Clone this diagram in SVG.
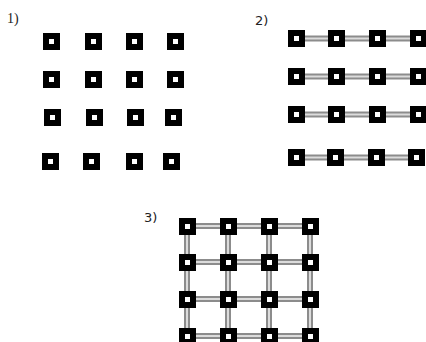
<svg xmlns="http://www.w3.org/2000/svg" width="426" height="342" viewBox="0 0 426 342">
<defs>
<style>
.o{fill:#000}
.i{fill:#fff}
.bo{stroke:#8c8c8c;stroke-width:6;fill:none}
.bi{stroke:#dcdcdc;stroke-width:2;fill:none}
.lbl1{font-family:"Liberation Serif",serif;font-size:14px;fill:#222}
.lbl{font-family:"DejaVu Sans","Liberation Sans",sans-serif;font-size:13px;fill:#222}
</style>
<g id="sq"><rect class="o" x="0" y="0" width="17" height="17"/><rect class="i" x="6" y="6" width="5" height="5"/></g>
</defs>
<rect width="426" height="342" fill="#fff"/>
<text class="lbl1" x="7" y="23">1)</text>
<text class="lbl" x="255" y="25">2)</text>
<text class="lbl" x="144" y="222">3)</text>

<g id="connectors">
<g id="c2">
<path class="bo" d="M296 38.5H419M296 76.5H419M296 114.5H419M296 157.5H419"/>
<path class="bi" d="M296 38.5H419M296 76.5H419M296 114.5H419M296 157.5H419"/>
</g>
<g id="c3">
<path class="bo" d="M187 226H310M187 262H310M187 299H310M187 336H310M187 226V342M228 226V342M269 226V342M310 226V342"/>
<path class="bi" d="M187 226H310M187 262H310M187 299H310M187 336H310M187 226V342M228 226V342M269 226V342M310 226V342"/>
</g>
</g>

<g id="panel1">
<g id="n1_11"><use href="#sq" x="43" y="33"/></g>
<g id="n1_12"><use href="#sq" x="85" y="33"/></g>
<g id="n1_13"><use href="#sq" x="126" y="33"/></g>
<g id="n1_14"><use href="#sq" x="167" y="33"/></g>
<g id="n1_21"><use href="#sq" x="43" y="71"/></g>
<g id="n1_22"><use href="#sq" x="85" y="71"/></g>
<g id="n1_23"><use href="#sq" x="126" y="71"/></g>
<g id="n1_24"><use href="#sq" x="167" y="71"/></g>
<g id="n1_31"><use href="#sq" x="44" y="109"/></g>
<g id="n1_32"><use href="#sq" x="86" y="109"/></g>
<g id="n1_33"><use href="#sq" x="127" y="109"/></g>
<g id="n1_34"><use href="#sq" x="165" y="109"/></g>
<g id="n1_41"><use href="#sq" x="42" y="153"/></g>
<g id="n1_42"><use href="#sq" x="83" y="153"/></g>
<g id="n1_43"><use href="#sq" x="126" y="153"/></g>
<g id="n1_44"><use href="#sq" x="163" y="153"/></g>
</g>

<g id="panel2">
<g id="n2_11"><use href="#sq" x="288" y="30"/></g>
<g id="n2_12"><use href="#sq" x="328" y="30"/></g>
<g id="n2_13"><use href="#sq" x="369" y="30"/></g>
<g id="n2_14"><use href="#sq" x="410" y="30"/></g>
<g id="n2_21"><use href="#sq" x="288" y="68"/></g>
<g id="n2_22"><use href="#sq" x="328" y="68"/></g>
<g id="n2_23"><use href="#sq" x="369" y="68"/></g>
<g id="n2_24"><use href="#sq" x="410" y="68"/></g>
<g id="n2_31"><use href="#sq" x="288" y="106"/></g>
<g id="n2_32"><use href="#sq" x="328" y="106"/></g>
<g id="n2_33"><use href="#sq" x="369" y="106"/></g>
<g id="n2_34"><use href="#sq" x="410" y="106"/></g>
<g id="n2_41"><use href="#sq" x="288" y="149"/></g>
<g id="n2_42"><use href="#sq" x="327" y="149"/></g>
<g id="n2_43"><use href="#sq" x="368" y="149"/></g>
<g id="n2_44"><use href="#sq" x="408" y="149"/></g>
</g>

<g id="panel3">
<g id="n3_11"><use href="#sq" x="179" y="218"/></g>
<g id="n3_12"><use href="#sq" x="220" y="218"/></g>
<g id="n3_13"><use href="#sq" x="261" y="218"/></g>
<g id="n3_14"><use href="#sq" x="302" y="218"/></g>
<g id="n3_21"><use href="#sq" x="179" y="254"/></g>
<g id="n3_22"><use href="#sq" x="220" y="254"/></g>
<g id="n3_23"><use href="#sq" x="261" y="254"/></g>
<g id="n3_24"><use href="#sq" x="302" y="254"/></g>
<g id="n3_31"><use href="#sq" x="179" y="291"/></g>
<g id="n3_32"><use href="#sq" x="220" y="291"/></g>
<g id="n3_33"><use href="#sq" x="261" y="291"/></g>
<g id="n3_34"><use href="#sq" x="302" y="291"/></g>
<g id="n3_41"><use href="#sq" x="179" y="328"/></g>
<g id="n3_42"><use href="#sq" x="220" y="328"/></g>
<g id="n3_43"><use href="#sq" x="261" y="328"/></g>
<g id="n3_44"><use href="#sq" x="302" y="328"/></g>
</g>
</svg>
